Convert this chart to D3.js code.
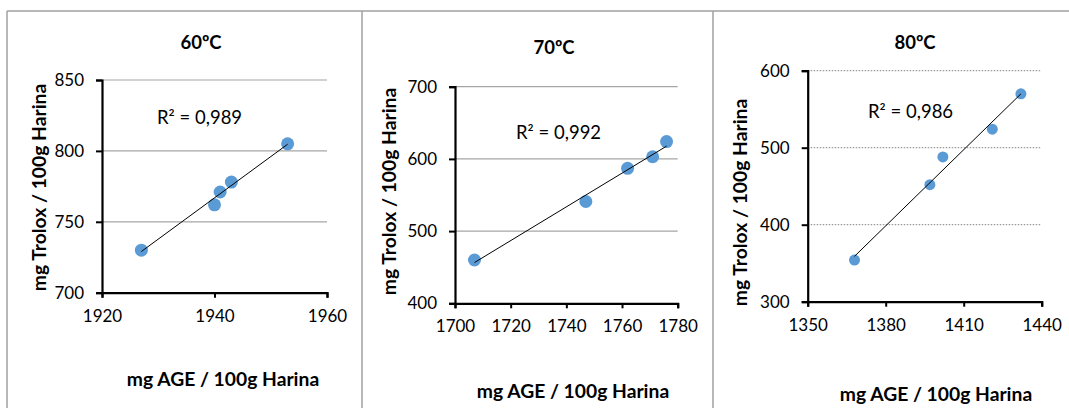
<!DOCTYPE html>
<html>
<head>
<meta charset="utf-8">
<script src="https://cdn.jsdelivr.net/npm/d3@7"></script>
<style>
  body { margin: 0; background: #fff; }
  svg { display: block; }
</style>
</head>
<body>
<div id="chart"></div>
<script>
// Data
const titles = ["60ºC", "70ºC", "80ºC"];
const r2Labels = ["R² = 0,989", "R² = 0,992", "R² = 0,986"];
const age60 = [1927, 1940, 1941, 1943, 1953];
const trolox60 = [730, 762, 771, 778, 805];
const age70 = [1707, 1747, 1762, 1771, 1776];
const trolox70 = [460, 541, 587, 603, 624];
const age80 = [1368, 1397, 1402, 1421, 1432];
const trolox80 = [354, 452, 488, 524, 570];
const xTicks60 = [1920, 1940, 1960];
const yTicks60 = [700, 750, 800, 850];
const xTicks70 = [1700, 1720, 1740, 1760, 1780];
const yTicks70 = [400, 500, 600, 700];
const xTicks80 = [1350, 1380, 1410, 1440];
const yTicks80 = [300, 400, 500, 600];
const xLabel = "mg AGE / 100g Harina";
const yLabel = "mg Trolox / 100g Harina";

const width = 1069, height = 408;
const svg = d3.select("#chart")
  .append("svg")
    .attr("width", width)
    .attr("height", height);

const font = "Lato, 'Open Sans', sans-serif";

// Panel frames
svg.append("line")
  .attr("x1", 7).attr("y1", 11).attr("x2", width).attr("y2", 11)
  .attr("stroke", "#a0a0a0").attr("stroke-width", 1.5);
[7, 362, 713].forEach(x => {
  svg.append("line")
    .attr("x1", x).attr("y1", 11).attr("x2", x).attr("y2", height)
    .attr("stroke", "#a0a0a0").attr("stroke-width", 1.5);
});

// Layout of each panel
const panels = [
  { xs: age60, ys: trolox60, xTicks: xTicks60, yTicks: yTicks60,
    left: 102, right: 327, top: 80, bottom: 292.7, dash: null, r: 6.5,
    title: [201, 42], r2: [157, 117], yLab: [38, 187.5], xLab: [223, 378] },
  { xs: age70, ys: trolox70, xTicks: xTicks70, yTicks: yTicks70,
    left: 455, right: 677.7, top: 86.7, bottom: 303.3, dash: null, r: 6.5,
    title: [554, 46.7], r2: [516, 132], yLab: [388, 191.5], xLab: [573, 390] },
  { xs: age80, ys: trolox80, xTicks: xTicks80, yTicks: yTicks80,
    left: 807.7, right: 1041.7, top: 70.7, bottom: 301.7, dash: "1.5,1.5", r: 5.5,
    title: [915, 41.7], r2: [868, 110.7], yLab: [739, 202.5], xLab: [936, 393] }
];

panels.forEach((p, i) => {
  const xScale = d3.scaleLinear()
    .domain(d3.extent(p.xTicks))
    .range([p.left, p.right]);
  const yScale = d3.scaleLinear()
    .domain(d3.extent(p.yTicks))
    .range([p.bottom, p.top]);

  const g = svg.append("g");

  // Gridlines
  g.selectAll(".grid")
    .data(p.yTicks.slice(1))
    .join("line")
      .attr("x1", p.left)
      .attr("x2", p.right)
      .attr("y1", d => yScale(d))
      .attr("y2", d => yScale(d))
      .attr("stroke", p.dash ? "#9a9a9a" : "#a6a6a6")
      .attr("stroke-width", 1.2)
      .attr("stroke-dasharray", p.dash);

  // Axes
  const xAxis = d3.axisBottom(xScale)
    .tickValues(p.xTicks)
    .tickFormat(d3.format("d"))
    .tickSize(5)
    .tickPadding(12);
  const yAxis = d3.axisLeft(yScale)
    .tickValues(p.yTicks)
    .tickFormat(d3.format("d"))
    .tickSize(6)
    .tickPadding(12);

  [g.append("g").attr("transform", `translate(0,${p.bottom})`).call(xAxis),
   g.append("g").attr("transform", `translate(${p.left},0)`).call(yAxis)]
    .forEach(ax => {
      ax.select(".domain").attr("stroke", "#000").attr("stroke-width", 2.2);
      ax.selectAll(".tick line").attr("stroke", "#000").attr("stroke-width", 2);
      ax.selectAll("text")
        .style("font-family", font)
        .style("font-size", "17px")
        .attr("fill", "#000");
    });

  // Trendline (least squares)
  const mx = d3.mean(p.xs), my = d3.mean(p.ys);
  const slope = d3.sum(p.xs, (x, k) => (x - mx) * (p.ys[k] - my)) /
                d3.sum(p.xs, x => (x - mx) ** 2);
  const icpt = my - slope * mx;
  const [x0, x1] = d3.extent(p.xs);

  // Points
  g.selectAll(".pt")
    .data(p.xs.map((x, k) => [x, p.ys[k]]))
    .join("circle")
      .attr("cx", d => xScale(d[0]))
      .attr("cy", d => yScale(d[1]))
      .attr("r", p.r)
      .attr("fill", "#5b9bd5");

  g.append("line")
    .attr("x1", xScale(x0)).attr("y1", yScale(icpt + slope * x0))
    .attr("x2", xScale(x1)).attr("y2", yScale(icpt + slope * x1))
    .attr("stroke", "#000")
    .attr("stroke-width", 1);

  // Texts
  g.append("text")
    .text(titles[i])
    .attr("x", p.title[0]).attr("y", p.title[1])
    .attr("text-anchor", "middle")
    .attr("dominant-baseline", "central")
    .style("font-family", font)
    .style("font-weight", "bold")
    .style("font-size", "18.5px");

  g.append("text")
    .text(r2Labels[i])
    .attr("x", p.r2[0]).attr("y", p.r2[1])
    .attr("dominant-baseline", "central")
    .style("font-family", font)
    .style("font-size", "18.5px");

  g.append("text")
    .text(yLabel)
    .attr("transform", `translate(${p.yLab[0]},${p.yLab[1]}) rotate(-90)`)
    .attr("text-anchor", "middle")
    .attr("dominant-baseline", "central")
    .style("font-family", font)
    .style("font-weight", "bold")
    .style("font-size", "19.3px");

  g.append("text")
    .text(xLabel)
    .attr("x", p.xLab[0]).attr("y", p.xLab[1])
    .attr("text-anchor", "middle")
    .attr("dominant-baseline", "central")
    .style("font-family", font)
    .style("font-weight", "bold")
    .style("font-size", "19.3px");
});
</script>
</body>
</html>
